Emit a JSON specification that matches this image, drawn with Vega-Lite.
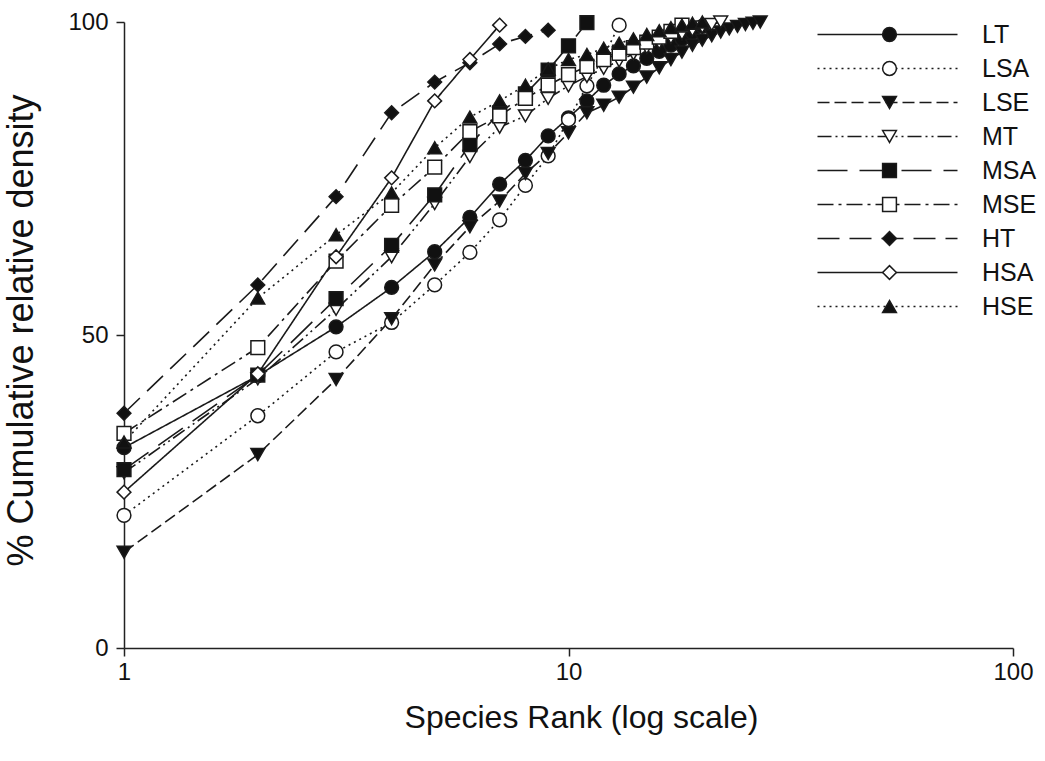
{
  "$schema": "https://vega.github.io/schema/vega-lite/v6.json",
  "width": 889,
  "height": 626,
  "autosize": {"type": "none"},
  "padding": {"left": 124, "top": 22, "right": 32, "bottom": 113},
  "background": "white",
  "config": {"view": {"stroke": null}, "font": "Liberation Sans"},
  "datasets": {
    "curves": [
      {"series":"LT","rank":1,"density":32},{"series":"LT","rank":2,"density":43.5},{"series":"LT","rank":3,"density":51.3},{"series":"LT","rank":4,"density":57.6},{"series":"LT","rank":5,"density":63.3},{"series":"LT","rank":6,"density":68.8},{"series":"LT","rank":7,"density":74.1},{"series":"LT","rank":8,"density":77.9},{"series":"LT","rank":9,"density":81.8},{"series":"LT","rank":10,"density":84.7},{"series":"LT","rank":11,"density":87.4},{"series":"LT","rank":12,"density":89.9},{"series":"LT","rank":13,"density":91.7},{"series":"LT","rank":14,"density":93.0},{"series":"LT","rank":15,"density":94.2},{"series":"LT","rank":16,"density":95.3},{"series":"LT","rank":17,"density":96.3},{"series":"LT","rank":18,"density":97.3},{"series":"LT","rank":19,"density":98.3},{"series":"LT","rank":20,"density":99.3},
      {"series":"LSA","rank":1,"density":21.2},{"series":"LSA","rank":2,"density":37.1},{"series":"LSA","rank":3,"density":47.3},{"series":"LSA","rank":4,"density":52.0},{"series":"LSA","rank":5,"density":58.0},{"series":"LSA","rank":6,"density":63.2},{"series":"LSA","rank":7,"density":68.4},{"series":"LSA","rank":8,"density":73.9},{"series":"LSA","rank":9,"density":78.6},{"series":"LSA","rank":10,"density":84.4},{"series":"LSA","rank":11,"density":89.8},{"series":"LSA","rank":12,"density":94.5},{"series":"LSA","rank":13,"density":99.5},
      {"series":"LSE","rank":1,"density":15.3},{"series":"LSE","rank":2,"density":30.9},{"series":"LSE","rank":3,"density":42.9},{"series":"LSE","rank":4,"density":52.6},{"series":"LSE","rank":5,"density":61.2},{"series":"LSE","rank":6,"density":67.3},{"series":"LSE","rank":7,"density":71.4},{"series":"LSE","rank":8,"density":75.8},{"series":"LSE","rank":9,"density":79.0},{"series":"LSE","rank":10,"density":82.3},{"series":"LSE","rank":11,"density":85.5},{"series":"LSE","rank":12,"density":86.7},{"series":"LSE","rank":13,"density":88.0},{"series":"LSE","rank":14,"density":89.6},{"series":"LSE","rank":15,"density":91.2},{"series":"LSE","rank":16,"density":92.7},{"series":"LSE","rank":17,"density":94.0},{"series":"LSE","rank":18,"density":95.2},{"series":"LSE","rank":19,"density":96.3},{"series":"LSE","rank":20,"density":97.1},{"series":"LSE","rank":21,"density":97.8},{"series":"LSE","rank":22,"density":98.4},{"series":"LSE","rank":23,"density":98.9},{"series":"LSE","rank":24,"density":99.3},{"series":"LSE","rank":25,"density":99.6},{"series":"LSE","rank":26,"density":99.8},{"series":"LSE","rank":27,"density":100},
      {"series":"MT","rank":1,"density":28},{"series":"MT","rank":2,"density":43},{"series":"MT","rank":3,"density":54.1},{"series":"MT","rank":4,"density":62.5},{"series":"MT","rank":5,"density":71.0},{"series":"MT","rank":6,"density":78.5},{"series":"MT","rank":7,"density":83.2},{"series":"MT","rank":8,"density":85.0},{"series":"MT","rank":9,"density":87.8},{"series":"MT","rank":10,"density":89.8},{"series":"MT","rank":11,"density":91.3},{"series":"MT","rank":12,"density":92.6},{"series":"MT","rank":13,"density":93.8},{"series":"MT","rank":14,"density":94.9},{"series":"MT","rank":15,"density":95.9},{"series":"MT","rank":16,"density":96.7},{"series":"MT","rank":17,"density":97.5},{"series":"MT","rank":18,"density":98.1},{"series":"MT","rank":19,"density":98.7},{"series":"MT","rank":20,"density":99.2},{"series":"MT","rank":21,"density":99.6},{"series":"MT","rank":22,"density":100},
      {"series":"MSA","rank":1,"density":28.5},{"series":"MSA","rank":2,"density":43.6},{"series":"MSA","rank":3,"density":55.8},{"series":"MSA","rank":4,"density":64.3},{"series":"MSA","rank":5,"density":72.4},{"series":"MSA","rank":6,"density":80.4},{"series":"MSA","rank":7,"density":85.5},{"series":"MSA","rank":8,"density":88.5},{"series":"MSA","rank":9,"density":92.3},{"series":"MSA","rank":10,"density":96.2},{"series":"MSA","rank":11,"density":99.9},
      {"series":"MSE","rank":1,"density":34.3},{"series":"MSE","rank":2,"density":48.0},{"series":"MSE","rank":3,"density":61.8},{"series":"MSE","rank":4,"density":70.7},{"series":"MSE","rank":5,"density":76.8},{"series":"MSE","rank":6,"density":82.5},{"series":"MSE","rank":7,"density":85.0},{"series":"MSE","rank":8,"density":87.8},{"series":"MSE","rank":9,"density":89.9},{"series":"MSE","rank":10,"density":91.6},{"series":"MSE","rank":11,"density":92.9},{"series":"MSE","rank":12,"density":94.0},{"series":"MSE","rank":13,"density":95.0},{"series":"MSE","rank":14,"density":95.9},{"series":"MSE","rank":15,"density":96.8},{"series":"MSE","rank":16,"density":97.6},{"series":"MSE","rank":17,"density":98.5},{"series":"MSE","rank":18,"density":99.5},
      {"series":"HT","rank":1,"density":37.5},{"series":"HT","rank":2,"density":58.0},{"series":"HT","rank":3,"density":72.1},{"series":"HT","rank":4,"density":85.5},{"series":"HT","rank":5,"density":90.4},{"series":"HT","rank":6,"density":93.5},{"series":"HT","rank":7,"density":96.5},{"series":"HT","rank":8,"density":97.7},{"series":"HT","rank":9,"density":98.7},
      {"series":"HSA","rank":1,"density":24.9},{"series":"HSA","rank":2,"density":43.8},{"series":"HSA","rank":3,"density":62.5},{"series":"HSA","rank":4,"density":75.1},{"series":"HSA","rank":5,"density":87.4},{"series":"HSA","rank":6,"density":94.0},{"series":"HSA","rank":7,"density":99.5},
      {"series":"HSE","rank":1,"density":32.9},{"series":"HSE","rank":2,"density":55.9},{"series":"HSE","rank":3,"density":66.0},{"series":"HSE","rank":4,"density":72.7},{"series":"HSE","rank":5,"density":79.9},{"series":"HSE","rank":6,"density":84.8},{"series":"HSE","rank":7,"density":87.4},{"series":"HSE","rank":8,"density":89.9},{"series":"HSE","rank":9,"density":92.5},{"series":"HSE","rank":10,"density":94.0},{"series":"HSE","rank":11,"density":94.8},{"series":"HSE","rank":12,"density":95.8},{"series":"HSE","rank":13,"density":96.6},{"series":"HSE","rank":14,"density":97.3},{"series":"HSE","rank":15,"density":98.0},{"series":"HSE","rank":16,"density":98.6},{"series":"HSE","rank":17,"density":99.1},{"series":"HSE","rank":18,"density":99.5},{"series":"HSE","rank":19,"density":99.8},{"series":"HSE","rank":20,"density":100}
    ]
  },
  "data": {"name": "curves"},
  "encoding": {
    "x": {
      "field": "rank", "type": "quantitative",
      "scale": {"type": "log", "domain": [1, 100], "nice": false},
      "axis": {
        "values": [1, 10, 100], "format": "d", "grid": false,
        "tickSize": 8, "tickWidth": 1.5, "tickColor": "#222",
        "domainColor": "#222", "domainWidth": 1.5,
        "labelFontSize": 24, "labelPadding": 4, "labelColor": "#111",
        "labelFlush": false, "labelOverlap": false,
        "title": "Species Rank (log scale)", "titleFontSize": 32, "titleFontWeight": "normal",
        "titleColor": "#111", "titleX": 457, "titleY": 69, "titleBaseline": "middle", "titleAlign": "center"
      }
    },
    "y": {
      "field": "density", "type": "quantitative",
      "scale": {"domain": [0, 100], "nice": false},
      "axis": {
        "values": [0, 50, 100], "grid": false,
        "tickSize": 8, "tickWidth": 1.5, "tickColor": "#222",
        "domainColor": "#222", "domainWidth": 1.5,
        "labelFontSize": 24, "labelPadding": 8, "labelColor": "#111",
        "labelFlush": false, "labelOverlap": false,
        "title": "% Cumulative relative density", "titleFontSize": 36, "titleFontWeight": "normal",
        "titleColor": "#111", "titleX": -103, "titleY": 308, "titleBaseline": "middle", "titleAlign": "center"
      }
    }
  },
  "layer": [
    {
      "mark": {"type": "line", "stroke": "#1a1a1a", "strokeWidth": 1.6},
      "encoding": {
        "detail": {"field": "series", "type": "nominal"},
        "strokeDash": {
          "field": "series", "type": "nominal",
          "scale": {
            "domain": ["LT", "LSA", "LSE", "MT", "MSA", "MSE", "HT", "HSA", "HSE"],
            "range": [[1, 0], [2, 4], [12, 5], [14, 4, 2, 4, 2, 4], [30, 12], [16, 5, 3, 5], [22, 10], [1, 0], [2, 4]]
          },
          "legend": {
            "orient": "none", "legendX": 751, "legendY": 0, "title": null, "padding": 0,
            "symbolType": "M-7,0L7,0", "symbolSize": 400, "symbolStrokeWidth": 1.5,
            "symbolStrokeColor": "#1a1a1a", "symbolFillColor": "transparent",
            "labelFontSize": 25, "labelOpacity": 0, "rowPadding": 8
          }
        }
      }
    },
    {
      "mark": {"type": "point", "filled": true, "strokeWidth": 1.5, "opacity": 1},
      "encoding": {
        "stroke": {"value": "#1a1a1a"},
        "shape": {
          "field": "series", "type": "nominal", "sort": null,
          "scale": {"range": ["circle", "circle", "triangle-down", "triangle-down", "square", "square", "diamond", "diamond", "triangle-up"]},
          "legend": {
            "orient": "none", "legendX": 753, "legendY": 0, "title": null, "padding": 0,
            "symbolStrokeWidth": 1.5, "symbolStrokeColor": "#1a1a1a",
            "labelFontSize": 25, "labelOffset": 80, "labelColor": "#111", "rowPadding": 8
          }
        },
        "fill": {
          "field": "series", "type": "nominal", "sort": null,
          "scale": {"range": ["#111", "white", "#111", "white", "#111", "white", "#111", "white", "#111"]}
        },
        "size": {
          "field": "series", "type": "nominal", "sort": null,
          "scale": {"range": [190, 190, 230, 230, 170, 170, 290, 290, 230]}
        }
      }
    }
  ]
}
